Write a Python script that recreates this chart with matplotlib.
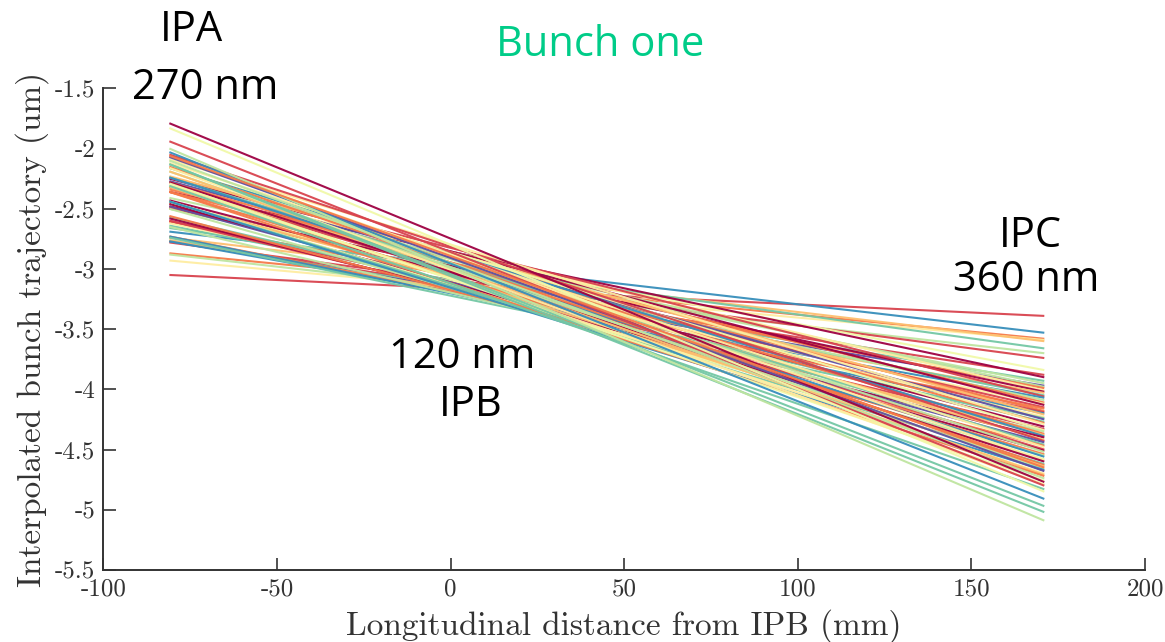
import matplotlib
matplotlib.use("Agg")
import matplotlib.pyplot as plt

# Trajectory end points (um) at the first and last longitudinal positions (mm)
x_first_mm = -81
x_last_mm = 171

start_um = [
    -3.05, -2.69, -2.87, -2.93, -2.74, -2.66, -2.88, -2.78, -2.48, -2.77,
    -2.36, -2.77, -2.50, -2.77, -2.41, -2.61, -2.31, -2.48, -2.76, -2.64,
    -2.24, -2.77, -2.50, -2.34, -2.62, -2.25, -2.49, -2.73, -2.36, -2.60,
    -2.73, -2.23, -2.46, -2.74, -2.27, -2.57, -2.32, -2.09, -2.43, -2.60,
    -2.16, -2.65, -2.28, -2.45, -2.16, -2.58, -2.31, -2.05, -2.48, -2.24,
    -2.56, -2.12, -2.32, -2.46, -2.16, -2.36, -2.50, -2.24, -2.44, -2.07,
    -2.28, -2.44, -2.15, -2.32, -2.19, -2.44, -2.07, -2.31, -2.19, -2.36,
    -2.10, -2.29, -1.79, -2.16, -1.94, -2.31, -2.03, -2.13, -2.13, -2.00,
    -1.83, -2.06,
]
end_um = [
    -3.39, -3.53, -3.58, -3.59, -3.60, -3.66, -3.70, -3.74, -3.84, -3.88,
    -3.90, -3.93, -3.95, -3.97, -3.98, -3.99, -4.01, -4.02, -4.03, -4.05,
    -4.06, -4.07, -4.09, -4.11, -4.12, -4.13, -4.15, -4.16, -4.18, -4.19,
    -4.20, -4.21, -4.23, -4.24, -4.25, -4.27, -4.28, -4.29, -4.31, -4.33,
    -4.34, -4.35, -4.37, -4.38, -4.39, -4.40, -4.42, -4.43, -4.44, -4.46,
    -4.47, -4.48, -4.50, -4.51, -4.52, -4.54, -4.55, -4.56, -4.58, -4.59,
    -4.60, -4.62, -4.63, -4.64, -4.66, -4.67, -4.68, -4.70, -4.71, -4.72,
    -4.74, -4.76, -4.77, -4.79, -4.80, -4.83, -4.91, -4.97, -5.02, -5.09,
    -4.85, -4.65,
]
# index into a 10-step Spectral palette (0 = dark red ... 9 = purple)
color_idx = [
    1, 8, 2, 4, 3, 7, 6, 1, 5, 1,
    0, 7, 6, 9, 6, 2, 4, 0, 3, 7,
    1, 8, 6, 2, 4, 0, 1, 2, 2, 1,
    8, 3, 4, 7, 9, 7, 2, 4, 0, 1,
    5, 6, 2, 3, 8, 0, 3, 1, 9, 7,
    2, 4, 1, 0, 6, 2, 6, 8, 5, 4,
    0, 7, 2, 3, 6, 8, 9, 4, 3, 2,
    6, 5, 0, 4, 1, 7, 8, 7, 7, 6,
    5, 2,
]

x_ticks = [-100, -50, 0, 50, 100, 150, 200]
y_ticks = [-5.5, -5, -4.5, -4, -3.5, -3, -2.5, -2, -1.5]
y_tick_labels = ["-5.5", "-5", "-4.5", "-4", "-3.5", "-3", "-2.5", "-2", "-1.5"]
x_tick_labels = ["-100", "-50", "0", "50", "100", "150", "200"]

plt.rcParams["axes.unicode_minus"] = False

W, H = 1165, 642
fig = plt.figure(figsize=(W / 100, H / 100), dpi=100)
ax = fig.add_axes([103.4 / W, 1 - 570 / H, (1145 - 103.4) / W, (570 - 88.3) / H])

cmap = plt.get_cmap("Spectral")
for s, e, c in zip(start_um, end_um, color_idx):
    ax.plot([x_first_mm, x_last_mm], [s, e], color=cmap(c / 9), lw=1.5, alpha=0.95,
            solid_capstyle="butt")

ax.set_xlim(-100, 200)
ax.set_ylim(-5.5, -1.5)
ax.set_xticks(x_ticks)
ax.set_xticklabels(x_tick_labels)
ax.set_yticks(y_ticks)
ax.set_yticklabels(y_tick_labels)

for side in ("top", "right"):
    ax.spines[side].set_visible(False)
for side in ("left", "bottom"):
    ax.spines[side].set_linewidth(1.4)
    ax.spines[side].set_color("#333333")
ax.tick_params(direction="in", length=9, width=1.2, color="#333333",
               labelsize=18, labelcolor="#333333", pad=6)
for lab in ax.get_xticklabels() + ax.get_yticklabels():
    lab.set_fontfamily("cmr10")

ax.set_xlabel("Longitudinal distance from IPB (mm)", fontfamily="cmr10",
              fontsize=24, color="#333333", labelpad=6)
ax.set_ylabel("Interpolated bunch trajectory (um)", fontfamily="cmr10",
              fontsize=24, color="#333333", labelpad=4)

ann = dict(family=["Open Sans", "DejaVu Sans"], fontsize=30, ha="center", va="center")
def ftext(px, py, s, **kw):
    d = dict(ann)
    d.update(kw)
    fig.text(px / W, 1 - py / H, s, **d)

ftext(192, 30, "IPA")
ftext(205, 88, "270 nm")
ftext(600, 45, "Bunch one", color="#00cc88")
ftext(462, 357, "120 nm")
ftext(471, 405, "IPB")
ftext(1030, 236, "IPC")
ftext(1026, 280, "360 nm")

fig.savefig("out.png", dpi=100)
